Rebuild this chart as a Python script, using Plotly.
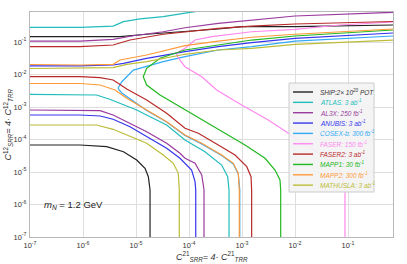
import plotly.graph_objects as go

# ---------------- data ----------------
names = ["SHiP", "ATLAS", "AL3X", "ANUBIS", "CODEX-b", "FASER", "FASER2", "MAPP1", "MAPP2", "MATHUSLA"]
legend_labels = [
    "SHiP:2× 10<sup>20</sup> POT",
    "ATLAS: 3 ab<sup>-1</sup>",
    "AL3X: 250 fb<sup>-1</sup>",
    "ANUBIS: 3 ab<sup>-1</sup>",
    "COSEX-b: 300 fb<sup>-1</sup>",
    "FASER: 150 fb<sup>-1</sup>",
    "FASER2: 3 ab<sup>-1</sup>",
    "MAPP1: 30 fb<sup>-1</sup>",
    "MAPP2: 300 fb<sup>-1</sup>",
    "MATHUSLA: 3 ab<sup>-1</sup>",
]
colors = ["#222222", "#22bcbc", "#9a3b9e", "#3636ee", "#33aaf5",
          "#ff88ee", "#b82a2a", "#22b822", "#ff9a3a", "#bcbc38"]
text_colors = ["#333333", "#22bcbc", "#9a3b9e", "#3636ee", "#33aaf5",
               "#ff88ee", "#b82a2a", "#22b822", "#ff9a3a", "#bcbc38"]

ship_up_x = [1e-7, 5.0e-6, 1.59e-5, 8.41e-5, 3.57e-4, 9.86e-4, 1.0e-2, 0.706]
ship_up_y = [0.146, 0.146, 0.173, 0.207, 0.251, 0.296, 0.296, 0.333]
ship_lo_x = [1e-7, 8.8e-7, 2.8e-6, 5.8e-6, 1.03e-5, 1.48e-5, 1.71e-5, 1.84e-5, 1.84e-5]
ship_lo_y = [6.78e-5, 6.78e-5, 6.0e-5, 4.22e-5, 2.34e-5, 1.30e-5, 7.16e-6, 2.79e-6, 1e-7]

atlas_up_x = [1e-7, 8.8e-7, 3.7e-6, 5.8e-6, 1.19e-5, 3.27e-5, 1.04e-4, 1.61e-4]
atlas_up_y = [0.283, 0.283, 0.310, 0.422, 0.511, 0.600, 0.82, 0.90]
atlas_lo_x = [1e-7, 8.8e-7, 1.8e-6, 3.2e-6, 5.8e-6, 1.03e-5, 1.84e-5, 3.79e-5, 8.41e-5,
              2.0e-4, 4.14e-4, 5.37e-4, 5.69e-4, 5.69e-4]
atlas_lo_y = [2.46e-3, 2.46e-3, 2.34e-3, 1.73e-3, 1.15e-3, 8.09e-4, 5.04e-4, 2.79e-4, 9.66e-5,
              4.22e-5, 1.64e-5, 7.16e-6, 2.79e-6, 1e-7]

al3x_up_x = [1e-7, 8.8e-7, 3.7e-6, 8.9e-6, 3.27e-5, 8.41e-5, 3.57e-4, 1.52e-3, 1.0e-2, 0.706]
al3x_up_y = [0.107, 0.107, 0.121, 0.156, 0.207, 0.275, 0.376, 0.475, 0.631, 0.82]
al3x_lo_x = [1e-7, 8.8e-7, 2.1e-6, 3.7e-6, 7.7e-6, 1.59e-5, 3.79e-5, 6.76e-5, 8.41e-5,
             1.30e-4, 1.74e-4, 1.92e-4, 1.92e-4]
al3x_lo_y = [8.09e-4, 8.09e-4, 7.69e-4, 5.68e-4, 3.15e-4, 1.74e-4, 7.64e-5, 3.76e-5, 2.64e-5,
             1.85e-5, 8.09e-6, 2.79e-6, 1e-7]

anubis_up_x = [1e-7, 8.8e-7, 3.7e-6, 5.8e-6, 1.59e-5, 8.41e-5, 3.57e-4, 1.52e-3, 1.0e-2, 0.706]
anubis_up_y = [0.0183, 0.0183, 0.0196, 0.0221, 0.0315, 0.0504, 0.0716, 0.0951, 0.130, 0.189]
anubis_lo_x = [1e-7, 8.8e-7, 2.1e-6, 3.7e-6, 7.7e-6, 1.59e-5, 3.79e-5, 6.76e-5, 8.41e-5,
               1.12e-4, 1.30e-4, 1.34e-4, 1.34e-4]
anubis_lo_y = [5.68e-4, 5.68e-4, 5.28e-4, 4.19e-4, 2.48e-4, 1.22e-4, 5.36e-5, 2.64e-5, 1.89e-5,
               1.15e-5, 5.04e-6, 2.79e-6, 1e-7]

codexb_x = [0.706, 1.0e-2, 1.52e-3, 3.57e-4, 8.41e-5, 3.27e-5, 8.9e-6, 5.4e-6, 4.6e-6, 4.8e-6,
            5.4e-6, 7.2e-6, 8.9e-6, 1.59e-5, 3.79e-5, 8.41e-5, 1.74e-4, 4.14e-4, 6.86e-4,
            8.51e-4, 9.08e-4, 9.08e-4]
codexb_y = [0.153, 0.107, 0.0716, 0.0568, 0.0353, 0.0248, 0.0137, 0.0060, 0.00385, 0.00333,
            0.00270, 0.00196, 0.00153, 7.80e-4, 3.45e-4, 1.33e-4, 7.28e-5, 3.22e-5, 1.76e-5,
            8.67e-6, 2.79e-6, 1e-7]

faser_x = [0.706, 7.06e-2, 1.0e-2, 1.52e-3, 2.68e-4, 1.30e-4, 8.41e-5, 6.28e-5, 5.86e-5, 6.28e-5,
           8.41e-5, 1.74e-4, 3.33e-4, 9.86e-4, 3.13e-3, 7.48e-3, 2.96e-2, 5.69e-2, 7.71e-2,
           8.77e-2, 8.77e-2]
faser_y = [0.412, 0.333, 0.246, 0.207, 0.146, 0.115, 0.0640, 0.0492, 0.0398, 0.0322,
           0.0174, 0.00855, 0.00333, 0.00115, 3.98e-4, 1.55e-4, 3.58e-5, 1.64e-5, 8.09e-6,
           2.79e-6, 1e-7]

faser2_up_x = [1e-7, 8.8e-7, 3.7e-6, 7.7e-6, 3.27e-5, 8.41e-5, 3.57e-4, 1.52e-3, 1.0e-2, 0.706]
faser2_up_y = [0.0716, 0.0716, 0.0809, 0.115, 0.173, 0.207, 0.264, 0.310, 0.358, 0.428]
faser2_lo_x = [1e-7, 8.8e-7, 2.1e-6, 3.7e-6, 5.0e-6, 6.7e-6, 1.59e-5, 3.79e-5, 8.41e-5,
               1.50e-4, 3.57e-4, 7.38e-4, 1.23e-3, 1.48e-3, 1.52e-3, 1.52e-3]
faser2_lo_y = [8.55e-3, 8.55e-3, 7.98e-3, 6.78e-3, 4.92e-3, 3.58e-3, 1.64e-3, 6.40e-4, 2.21e-4,
               1.55e-4, 6.78e-5, 3.33e-5, 1.46e-5, 7.16e-6, 2.79e-6, 1e-7]

mapp1_x = [0.706, 1.0e-2, 1.52e-3, 3.57e-4, 8.41e-5, 2.84e-5, 1.59e-5, 1.37e-5, 1.59e-5, 2.84e-5,
           8.41e-5, 1.74e-4, 4.78e-4, 1.14e-3, 2.72e-3, 4.20e-3, 5.21e-3, 5.37e-3, 5.37e-3]
mapp1_y = [0.234, 0.153, 0.115, 0.0809, 0.0568, 0.0315, 0.0155, 0.00855, 0.00475, 0.00234,
           8.09e-4, 3.98e-4, 1.55e-4, 6.78e-5, 2.64e-5, 1.15e-5, 5.68e-6, 2.79e-6, 1e-7]

mapp2_up_x = [1e-7, 8.8e-7, 3.7e-6, 5.0e-6, 1.59e-5, 6.76e-5, 8.41e-5, 3.57e-4, 1.52e-3, 1.0e-2, 0.706]
mapp2_up_y = [0.0203, 0.0196, 0.0206, 0.0279, 0.0398, 0.0716, 0.0769, 0.107, 0.140, 0.173, 0.251]
mapp2_lo_x = [1e-7, 8.8e-7, 2.1e-6, 4.02e-6, 6.7e-6, 1.59e-5, 3.79e-5, 8.41e-5, 1.74e-4,
              4.14e-4, 6.86e-4, 8.51e-4, 8.89e-4, 8.89e-4]
mapp2_lo_y = [5.28e-3, 5.28e-3, 4.75e-3, 3.33e-3, 1.85e-3, 8.09e-4, 3.53e-4, 1.37e-4, 7.64e-5,
              3.33e-5, 1.85e-5, 9.12e-6, 2.79e-6, 1e-7]

mathusla_up_x = [1e-7, 8.8e-7, 3.7e-6, 6.7e-6, 1.59e-5, 8.41e-5, 3.57e-4, 1.52e-3, 1.0e-2, 0.706]
mathusla_up_y = [0.0153, 0.0155, 0.0162, 0.0206, 0.0248, 0.0419, 0.0568, 0.0640, 0.0849, 0.115]
mathusla_lo_x = [1e-7, 8.8e-7, 1.8e-6, 3.7e-6, 6.7e-6, 1.59e-5, 3.27e-5, 5.06e-5, 6.28e-5, 6.56e-5, 6.56e-5]
mathusla_lo_y = [2.79e-4, 2.79e-4, 2.79e-4, 2.06e-4, 1.37e-4, 7.64e-5, 3.33e-5, 1.85e-5, 9.12e-6, 2.79e-6, 1e-7]

tick_vals = [1e-7, 1e-6, 1e-5, 1e-4, 1e-3, 1e-2, 1e-1]
tick_text = ["10<sup>-7</sup>", "10<sup>-6</sup>", "10<sup>-5</sup>", "10<sup>-4</sup>",
             "10<sup>-3</sup>", "10<sup>-2</sup>", "10<sup>-1</sup>"]


def join(*parts):
    xs, ys = [], []
    for i in range(0, len(parts), 2):
        if xs:
            xs.append(None)
            ys.append(None)
        xs += parts[i]
        ys += parts[i + 1]
    return xs, ys


curves = [
    join(ship_up_x, ship_up_y, ship_lo_x, ship_lo_y),
    join(atlas_up_x, atlas_up_y, atlas_lo_x, atlas_lo_y),
    join(al3x_up_x, al3x_up_y, al3x_lo_x, al3x_lo_y),
    join(anubis_up_x, anubis_up_y, anubis_lo_x, anubis_lo_y),
    join(codexb_x, codexb_y),
    join(faser_x, faser_y),
    join(faser2_up_x, faser2_up_y, faser2_lo_x, faser2_lo_y),
    join(mapp1_x, mapp1_y),
    join(mapp2_up_x, mapp2_up_y, mapp2_lo_x, mapp2_lo_y),
    join(mathusla_up_x, mathusla_up_y, mathusla_lo_x, mathusla_lo_y),
]

FONT = "Liberation Sans, Arial, sans-serif"

fig = go.Figure()
for (xs, ys), name, col in zip(curves, names, colors):
    fig.add_trace(go.Scatter(x=xs, y=ys, mode="lines", name=name,
                             line=dict(color=col, width=1.2),
                             showlegend=False, hoverinfo="skip"))

W, H = 407, 264
ML, MR, MT, MB = 30, 14, 12, 27
pw, ph = W - ML - MR, H - MT - MB


def px(x):
    return (x - ML) / pw


def py(y):
    return (H - MB - y) / ph


axis_common = dict(type="log", showgrid=True, gridcolor="#dedede", gridwidth=1,
                   zeroline=False, showline=True, mirror=True, linecolor="#b8b8b8",
                   linewidth=1, ticks="", tickvals=tick_vals, ticktext=tick_text,
                   automargin=False,
                   tickfont=dict(family=FONT, size=7.5, color="#333333"))

fig.update_layout(
    width=W, height=H, autosize=False,
    margin=dict(l=ML, r=MR, t=MT, b=MB, pad=0),
    paper_bgcolor="white", plot_bgcolor="white",
    xaxis=dict(range=[-7, -0.151], ticklabelstandoff=1, **axis_common),
    yaxis=dict(range=[-7, -0.077], ticklabelstandoff=1, **axis_common),
    font=dict(family=FONT),
)

annotations = [
    dict(xref="paper", yref="paper", x=0.5, y=py(256), showarrow=False,
         text="<i>C</i><sup>21</sup><sub><i>SRR</i></sub><i>= 4· C</i><sup>21</sup><sub><i>TRR</i></sub>",
         font=dict(size=9, color="#333333"), xanchor="center", yanchor="middle"),
    dict(xref="paper", yref="paper", x=px(8), y=0.5, showarrow=False, textangle=-90,
         text="<i>C</i><sup>12</sup><sub><i>SRR</i></sub><i>= 4· C</i><sup>12</sup><sub><i>TRR</i></sub>",
         font=dict(size=9, color="#333333"), xanchor="center", yanchor="middle"),
    dict(xref="paper", yref="paper", x=px(42), y=py(205), showarrow=False,
         text="<i>m</i><sub><i>N</i></sub> = 1.2 GeV",
         font=dict(size=9.5, color="#222222"), xanchor="left", yanchor="middle"),
]

shapes = [dict(type="rect", xref="paper", yref="paper",
               x0=px(289), x1=px(374), y0=py(192), y1=py(83),
               fillcolor="rgba(243,243,243,0.93)", line=dict(color="#cccccc", width=1),
               layer="above")]

row0, step = 92.0, 10.35
for i, (lab, col, tcol) in enumerate(zip(legend_labels, colors, text_colors)):
    yy = py(row0 + i * step)
    shapes.append(dict(type="line", xref="paper", yref="paper",
                       x0=px(293), x1=px(313), y0=yy, y1=yy,
                       line=dict(color=col, width=1.4), layer="above"))
    annotations.append(dict(xref="paper", yref="paper", x=px(318), y=yy, showarrow=False,
                            text="<i>" + lab + "</i>", xanchor="left", yanchor="middle",
                            font=dict(size=6.5, color=tcol)))

fig.update_layout(annotations=annotations, shapes=shapes)

fig.write_html("out.html", config={"responsive": False, "displayModeBar": False},
               post_script="document.body.style.margin='0px';document.body.style.padding='0px';")
